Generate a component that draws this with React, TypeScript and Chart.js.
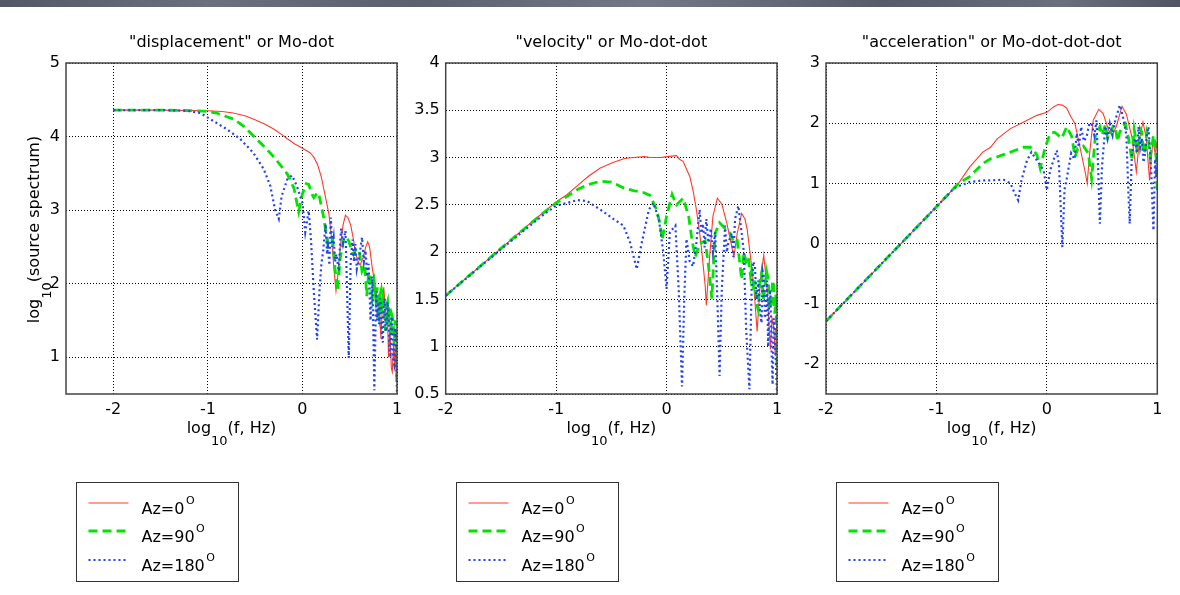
import React, { useEffect, useRef } from "react";
import { Chart, registerables } from "chart.js";

Chart.register(...registerables);

type Pt = [number, number];

const seriesNames = ["Az=0", "Az=90", "Az=180"];
const panelTitles = [
  '"displacement" or Mo-dot',
  '"velocity" or Mo-dot-dot',
  '"acceleration" or Mo-dot-dot-dot',
];
const xTicks = [-2, -1, 0, 1];
const dispYTicks = [1, 2, 3, 4, 5];
const velYTicks = [0.5, 1, 1.5, 2, 2.5, 3, 3.5, 4];
const accYTicks = [-2, -1, 0, 1, 2, 3];

// ---- "displacement" panel ----
const dispAz0: Pt[] = [
  [-2, 4.36], [-1.5, 4.36], [-1.2, 4.355], [-1, 4.35], [-0.85, 4.34], [-0.73, 4.32], [-0.6, 4.28],
  [-0.52, 4.24], [-0.4, 4.17], [-0.3, 4.1], [-0.2, 4.01], [-0.16, 3.97], [-0.08, 3.9], [0, 3.84],
  [0.08, 3.78], [0.12, 3.72], [0.16, 3.62], [0.2, 3.45], [0.24, 3.2], [0.28, 2.95], [0.31, 2.6],
  [0.33, 2.25], [0.355, 1.9], [0.37, 2.05], [0.4, 2.5], [0.43, 2.8], [0.455, 2.93], [0.48, 2.9],
  [0.51, 2.8], [0.54, 2.6], [0.56, 2.42], [0.59, 2.3], [0.61, 2.25], [0.64, 2.35], [0.67, 2.5],
  [0.69, 2.57], [0.71, 2.5], [0.74, 2.2], [0.765, 2.0], [0.79, 1.8], [0.81, 1.85], [0.83, 1.25],
  [0.845, 1.7], [0.86, 1.95], [0.88, 1.6], [0.9, 1.55], [0.91, 1.0], [0.925, 1.4], [0.94, 0.85],
  [0.95, 0.8], [0.965, 1.2], [0.975, 0.9], [0.985, 1.15], [0.993, 0.7], [1.0, 1.0],
];
const dispAz90: Pt[] = [
  [-2, 4.36], [-1.5, 4.36], [-1.1, 4.35], [-1, 4.34], [-0.91, 4.32], [-0.8, 4.27], [-0.73, 4.24],
  [-0.62, 4.14], [-0.52, 4.01], [-0.4, 3.86], [-0.3, 3.72], [-0.2, 3.56], [-0.16, 3.49], [-0.09, 3.3],
  [-0.04, 2.98], [0.0, 3.22], [0.04, 3.36], [0.066, 3.35], [0.1, 3.22], [0.12, 3.17], [0.16, 3.24],
  [0.18, 3.18], [0.225, 2.9], [0.27, 2.52], [0.3, 2.55], [0.32, 2.6], [0.345, 2.2], [0.37, 1.9],
  [0.4, 2.35], [0.44, 2.63], [0.47, 2.62], [0.49, 2.58], [0.52, 2.45], [0.54, 2.4], [0.57, 2.48],
  [0.6, 2.45], [0.63, 2.17], [0.66, 2.25], [0.68, 1.83], [0.7, 2.15], [0.72, 2.08], [0.74, 1.81],
  [0.76, 2.0], [0.775, 1.8], [0.79, 1.95], [0.8, 1.6], [0.81, 1.54], [0.82, 1.85], [0.83, 1.9],
  [0.84, 1.6], [0.85, 1.8], [0.86, 1.72], [0.87, 1.45], [0.88, 1.36], [0.89, 1.7], [0.9, 1.75],
  [0.91, 1.45], [0.92, 1.65], [0.93, 1.63], [0.94, 1.3], [0.95, 1.55], [0.96, 1.5], [0.97, 1.15],
  [0.98, 1.5], [0.99, 1.3], [1.0, 0.65],
];
const dispAz180: Pt[] = [
  [-2, 4.36], [-1.5, 4.36], [-1.22, 4.35], [-1.08, 4.32], [-0.94, 4.21], [-0.8, 4.1], [-0.66, 3.97],
  [-0.52, 3.78], [-0.41, 3.56], [-0.34, 3.33], [-0.29, 3.01], [-0.25, 2.88], [-0.22, 3.19],
  [-0.16, 3.42], [-0.11, 3.47], [-0.06, 3.33], [0.0, 3.1], [0.03, 2.7], [0.066, 2.99], [0.09, 2.6],
  [0.12, 1.9], [0.155, 1.24], [0.18, 1.9], [0.2, 2.26], [0.22, 2.45], [0.245, 2.81], [0.26, 2.4],
  [0.27, 2.5], [0.285, 2.25], [0.3, 2.9], [0.315, 2.5], [0.33, 2.63], [0.345, 2.3], [0.36, 2.4],
  [0.385, 2.17], [0.4, 2.6], [0.41, 2.75], [0.43, 2.55], [0.455, 2.72], [0.47, 2.0], [0.49, 0.99],
  [0.51, 2.3], [0.53, 2.6], [0.545, 2.3], [0.56, 2.54], [0.575, 2.2], [0.59, 2.3], [0.61, 2.45],
  [0.63, 2.63], [0.65, 2.3], [0.667, 2.45], [0.685, 2.1], [0.7, 2.27], [0.72, 1.5], [0.74, 2.1],
  [0.76, 0.55], [0.78, 1.9], [0.79, 1.5], [0.8, 1.75], [0.81, 1.45], [0.82, 1.8], [0.83, 1.72],
  [0.84, 1.3], [0.85, 1.2], [0.86, 1.7], [0.87, 1.8], [0.88, 1.35], [0.89, 1.4], [0.9, 1.75],
  [0.91, 1.6], [0.92, 1.1], [0.93, 1.0], [0.94, 1.55], [0.95, 1.5], [0.96, 0.95], [0.97, 0.9],
  [0.98, 1.4], [0.99, 1.2], [1.0, 0.5],
];

// ---- "velocity" panel ----
const velAz0: Pt[] = [
  [-2, 1.54], [-1.5, 2.04], [-1.2, 2.34], [-1, 2.53], [-0.9, 2.61], [-0.81, 2.7], [-0.71, 2.8],
  [-0.6, 2.89], [-0.48, 2.95], [-0.38, 2.99], [-0.3, 3.0], [-0.2, 3.01], [-0.15, 3.0], [-0.05, 3.0],
  [0, 3.01], [0.09, 3.02], [0.12, 2.98], [0.15, 2.96], [0.18, 2.88], [0.21, 2.8], [0.24, 2.65],
  [0.27, 2.45], [0.3, 2.2], [0.32, 2.0], [0.35, 1.64], [0.36, 1.44], [0.39, 1.95], [0.42, 2.38],
  [0.46, 2.57], [0.5, 2.51], [0.545, 2.31], [0.59, 2.06], [0.61, 1.95], [0.64, 2.2], [0.68, 2.41],
  [0.71, 2.35], [0.73, 2.24], [0.76, 1.95], [0.79, 1.64], [0.82, 1.16], [0.85, 1.71], [0.88, 1.97],
  [0.91, 1.6], [0.94, 0.97], [0.955, 1.3], [0.97, 1.21], [0.985, 0.9], [1.0, 1.3],
];
const velAz90: Pt[] = [
  [-2, 1.54], [-1.5, 2.04], [-1.1, 2.43], [-1, 2.52], [-0.9, 2.59], [-0.81, 2.66], [-0.72, 2.71],
  [-0.6, 2.75], [-0.5, 2.74], [-0.39, 2.68], [-0.3, 2.65], [-0.21, 2.63], [-0.15, 2.6], [-0.09, 2.45],
  [-0.06, 2.3], [-0.04, 2.13], [0.0, 2.38], [0.05, 2.61], [0.09, 2.5], [0.15, 2.57], [0.2, 2.38],
  [0.23, 2.13], [0.26, 1.95], [0.3, 2.09], [0.35, 2.12], [0.38, 1.85], [0.41, 1.51], [0.44, 2.2],
  [0.48, 2.31], [0.53, 2.25], [0.575, 2.2], [0.61, 2.1], [0.64, 2.12], [0.68, 1.71], [0.7, 2.0],
  [0.72, 1.9], [0.74, 1.95], [0.76, 1.75], [0.77, 1.85], [0.79, 1.6], [0.8, 1.7], [0.815, 1.45],
  [0.83, 1.39], [0.845, 1.7], [0.86, 1.78], [0.875, 1.5], [0.89, 1.6], [0.905, 1.8], [0.92, 1.72],
  [0.935, 1.4], [0.95, 1.45], [0.96, 1.7], [0.97, 1.65], [0.98, 1.35], [0.99, 1.55], [1.0, 0.75],
];
const velAz180: Pt[] = [
  [-2, 1.54], [-1.5, 2.03], [-1.1, 2.41], [-1, 2.49], [-0.9, 2.52], [-0.81, 2.55], [-0.72, 2.54],
  [-0.6, 2.45], [-0.48, 2.35], [-0.39, 2.28], [-0.33, 2.1], [-0.27, 1.82], [-0.23, 2.07],
  [-0.16, 2.45], [-0.12, 2.52], [-0.07, 2.35], [-0.03, 2.0], [0.0, 1.61], [0.03, 2.21], [0.08, 2.28],
  [0.11, 1.6], [0.14, 0.58], [0.16, 1.5], [0.18, 2.14], [0.21, 1.9], [0.24, 1.85], [0.27, 2.1],
  [0.3, 2.45], [0.315, 2.2], [0.33, 2.3], [0.345, 2.05], [0.36, 2.35], [0.38, 2.1], [0.4, 2.25],
  [0.42, 2.0], [0.44, 2.21], [0.46, 1.5], [0.48, 0.69], [0.5, 1.6], [0.53, 2.28], [0.545, 2.0],
  [0.56, 2.1], [0.59, 2.2], [0.605, 1.95], [0.62, 2.35], [0.65, 2.49], [0.68, 2.2], [0.7, 2.0],
  [0.72, 1.2], [0.75, 0.55], [0.77, 1.6], [0.785, 1.9], [0.8, 1.85], [0.815, 1.5], [0.83, 1.7],
  [0.845, 1.4], [0.86, 1.25], [0.87, 1.8], [0.88, 1.75], [0.89, 1.3], [0.9, 1.4], [0.91, 1.7],
  [0.92, 1.0], [0.93, 1.5], [0.94, 1.6], [0.95, 1.0], [0.96, 0.6], [0.97, 1.3], [0.98, 1.2],
  [0.99, 0.8], [1.0, 0.51],
];

// ---- "acceleration" panel ----
const accAz0: Pt[] = [
  [-2, -1.29], [-1.5, -0.34], [-1, 0.61], [-0.8, 1.0], [-0.7, 1.27], [-0.58, 1.52], [-0.51, 1.6],
  [-0.45, 1.74], [-0.33, 1.91], [-0.21, 2.02], [-0.09, 2.13], [0, 2.18], [0.06, 2.27], [0.1, 2.31],
  [0.14, 2.3], [0.18, 2.25], [0.22, 2.1], [0.255, 1.99], [0.3, 1.6], [0.35, 1.16], [0.365, 1.0],
  [0.39, 1.55], [0.42, 2.05], [0.47, 2.23], [0.51, 2.16], [0.56, 1.88], [0.59, 1.8], [0.63, 1.95],
  [0.68, 2.28], [0.72, 2.15], [0.77, 1.77], [0.81, 1.19], [0.84, 1.75], [0.87, 2.02], [0.9, 1.75],
  [0.93, 1.05], [0.96, 1.72], [0.98, 1.5], [1.0, 1.7],
];
const accAz90: Pt[] = [
  [-2, -1.29], [-1.5, -0.34], [-1, 0.61], [-0.8, 1.0], [-0.7, 1.11], [-0.58, 1.33], [-0.51, 1.41],
  [-0.45, 1.44], [-0.33, 1.52], [-0.21, 1.6], [-0.15, 1.6], [-0.12, 1.55], [-0.09, 1.47],
  [-0.06, 1.25], [-0.015, 1.6], [0.03, 1.83], [0.07, 1.85], [0.09, 1.82], [0.135, 1.75], [0.18, 1.94],
  [0.225, 1.78], [0.255, 1.44], [0.28, 1.58], [0.33, 1.62], [0.375, 1.5], [0.405, 1.08], [0.44, 1.8],
  [0.48, 1.94], [0.5, 1.8], [0.53, 1.97], [0.55, 1.75], [0.57, 1.8], [0.6, 1.95], [0.62, 1.94],
  [0.64, 1.7], [0.66, 1.85], [0.69, 1.95], [0.71, 1.99], [0.74, 1.75], [0.77, 1.38], [0.79, 1.9],
  [0.8, 1.8], [0.815, 1.55], [0.83, 1.6], [0.845, 1.9], [0.86, 1.85], [0.875, 1.5], [0.89, 1.55],
  [0.905, 1.85], [0.92, 1.75], [0.935, 1.45], [0.95, 1.6], [0.965, 1.8], [0.98, 1.65], [0.99, 1.4],
  [1.0, 0.89],
];
const accAz180: Pt[] = [
  [-2, -1.29], [-1.5, -0.34], [-1, 0.61], [-0.85, 0.9], [-0.82, 0.94], [-0.7, 1.02], [-0.58, 1.05],
  [-0.51, 1.05], [-0.39, 1.06], [-0.33, 1.0], [-0.29, 0.83], [-0.26, 0.72], [-0.23, 1.05],
  [-0.18, 1.38], [-0.14, 1.52], [-0.09, 1.38], [-0.03, 1.22], [0.0, 0.89], [0.03, 1.22], [0.09, 1.55],
  [0.11, 1.3], [0.14, -0.06], [0.16, 0.9], [0.18, 1.08], [0.22, 1.5], [0.25, 1.4], [0.27, 1.83],
  [0.29, 1.6], [0.31, 1.94], [0.335, 1.7], [0.36, 1.78], [0.385, 2.0], [0.405, 1.99], [0.43, 1.8],
  [0.45, 2.05], [0.465, 1.2], [0.48, 0.33], [0.5, 1.3], [0.53, 1.95], [0.55, 1.75], [0.57, 1.99],
  [0.595, 1.8], [0.62, 2.05], [0.66, 2.3], [0.69, 2.1], [0.72, 1.8], [0.735, 1.0], [0.75, 0.33],
  [0.77, 1.5], [0.8, 1.75], [0.815, 1.5], [0.83, 1.94], [0.845, 1.6], [0.86, 1.75], [0.875, 1.35],
  [0.89, 1.5], [0.905, 1.8], [0.92, 1.94], [0.935, 1.5], [0.945, 1.2], [0.965, 0.22], [0.98, 1.4],
  [0.99, 1.1], [1.0, 1.5],
];

const FONT = "DejaVu Sans";
const RED = "#ff3a2a";
const GREEN = "#00e400";
const BLUE = "#2243f0";

interface PanelCfg {
  title: string;
  canvasLeft: number;
  canvasWidth: number;
  yAxisWidth: number;
  padRight: number;
  xMin: number;
  xMax: number;
  yMin: number;
  yMax: number;
  yTicks: number[];
  series: Pt[][];
  yTitle: boolean;
}

const panels: PanelCfg[] = [
  {
    title: panelTitles[0], canvasLeft: 0, canvasWidth: 412, yAxisWidth: 66, padRight: 15,
    xMin: -2.5, xMax: 1, yMin: 0.5, yMax: 5, yTicks: dispYTicks,
    series: [dispAz0, dispAz90, dispAz180], yTitle: true,
  },
  {
    title: panelTitles[1], canvasLeft: 400, canvasWidth: 400, yAxisWidth: 45.7, padRight: 23,
    xMin: -2, xMax: 1, yMin: 0.5, yMax: 4, yTicks: velYTicks,
    series: [velAz0, velAz90, velAz180], yTitle: false,
  },
  {
    title: panelTitles[2], canvasLeft: 790, canvasWidth: 390, yAxisWidth: 36, padRight: 22.7,
    xMin: -2, xMax: 1, yMin: -2.5, yMax: 3, yTicks: accYTicks,
    series: [accAz0, accAz90, accAz180], yTitle: false,
  },
];

const styles = [
  { color: RED, width: 1.1, dash: [] as number[] },
  { color: GREEN, width: 2.8, dash: [9, 5] },
  { color: BLUE, width: 2.2, dash: [2, 3] },
];

function drawSubText(
  ctx: CanvasRenderingContext2D, cx: number, y: number,
  a: string, sub: string, b: string, subDrop: number
) {
  ctx.textAlign = "left";
  ctx.textBaseline = "alphabetic";
  ctx.font = `16px ${FONT}`;
  const w1 = ctx.measureText(a).width;
  const w3 = ctx.measureText(b).width;
  ctx.font = `13px ${FONT}`;
  const w2 = ctx.measureText(sub).width;
  let x = cx - (w1 + w2 + w3) / 2;
  ctx.font = `16px ${FONT}`;
  ctx.fillText(a, x, y);
  x += w1;
  ctx.font = `13px ${FONT}`;
  ctx.fillText(sub, x, y + subDrop);
  x += w2;
  ctx.font = `16px ${FONT}`;
  ctx.fillText(b, x, y);
}

function makeDecor(cfg: PanelCfg) {
  return {
    id: "decor",
    afterDraw(chart: any) {
      const ctx: CanvasRenderingContext2D = chart.ctx;
      const a = chart.chartArea;
      ctx.save();
      ctx.setLineDash([]);
      ctx.strokeStyle = "#444";
      ctx.lineWidth = 1.5;
      ctx.strokeRect(a.left, a.top, a.right - a.left, a.bottom - a.top);

      const cx = (a.left + a.right) / 2;
      ctx.fillStyle = "#000";
      ctx.font = `16px ${FONT}`;
      ctx.textAlign = "center";
      ctx.textBaseline = "alphabetic";
      ctx.fillText(cfg.title, cx, 47);

      drawSubText(ctx, cx, 432.5, "log", "10", "(f, Hz)", 12);

      if (cfg.yTitle) {
        ctx.save();
        ctx.translate(39, (a.top + a.bottom) / 2 + 1);
        ctx.rotate(-Math.PI / 2);
        drawSubText(ctx, 0, 0, "log", "10", "(source spectrum)", 12);
        ctx.restore();
      }

      // legend box
      const bx = Math.round(a.left + 10) + 0.5;
      const by = 482.5;
      const bw = 162;
      const bh = 99;
      ctx.fillStyle = "#fff";
      ctx.fillRect(bx, by, bw, bh);
      ctx.strokeStyle = "#333";
      ctx.lineWidth = 1;
      ctx.strokeRect(bx, by, bw, bh);
      const baselines = [513.5, 541.5, 570.5];
      seriesNames.forEach((name, i) => {
        const st = styles[i];
        const ly = baselines[i] - 10.5;
        ctx.beginPath();
        ctx.strokeStyle = st.color;
        ctx.lineWidth = st.width;
        ctx.setLineDash(st.dash);
        ctx.moveTo(bx + 12, ly);
        ctx.lineTo(bx + 52, ly);
        ctx.stroke();
        ctx.setLineDash([]);
        ctx.fillStyle = "#000";
        ctx.textAlign = "left";
        ctx.font = `16px ${FONT}`;
        ctx.fillText(name, bx + 65, baselines[i]);
        const w = ctx.measureText(name).width;
        ctx.font = `11px ${FONT}`;
        ctx.fillText("O", bx + 65 + w + 1.5, baselines[i] - 10);
      });
      ctx.restore();
    },
  };
}

function Panel({ cfg }: { cfg: PanelCfg }) {
  const ref = useRef<HTMLCanvasElement>(null);
  useEffect(() => {
    const canvas = ref.current;
    if (!canvas) return;
    const tickFont = { family: FONT, size: 16 };
    const chart = new Chart(canvas, {
      type: "line",
      data: {
        datasets: cfg.series.map((s, i) => ({
          label: seriesNames[i],
          data: s.map(([x, y]) => ({ x, y })),
          borderColor: styles[i].color,
          borderWidth: styles[i].width,
          borderDash: styles[i].dash,
          pointRadius: 0,
          fill: false,
          tension: 0,
          order: 3 - i,
        })),
      },
      options: {
        responsive: false,
        animation: false,
        events: [],
        layout: { padding: { top: 63, right: cfg.padRight, bottom: 161, left: 0 } },
        plugins: { legend: { display: false }, tooltip: { enabled: false }, title: { display: false } },
        scales: {
          x: {
            type: "linear",
            min: cfg.xMin,
            max: cfg.xMax,
            afterBuildTicks: (s: any) => { s.ticks = xTicks.map((v) => ({ value: v })); },
            afterFit: (s: any) => { s.height = 40; },
            grid: { color: "#000", lineWidth: 1, drawTicks: false },
            border: { display: false, dash: [1, 2] },
            ticks: {
              padding: 6, color: "#000", font: tickFont, maxRotation: 0, autoSkip: false,
              callback: (v: any) => String(v),
            },
          },
          y: {
            type: "linear",
            min: cfg.yMin,
            max: cfg.yMax,
            afterBuildTicks: (s: any) => { s.ticks = cfg.yTicks.map((v) => ({ value: v })); },
            afterFit: (s: any) => { s.width = cfg.yAxisWidth; },
            grid: { color: "#000", lineWidth: 1, drawTicks: false },
            border: { display: false, dash: [1, 2] },
            ticks: {
              padding: 6, color: "#000", font: tickFont, autoSkip: false,
              callback: (v: any) => String(v),
            },
          },
        },
      },
      plugins: [makeDecor(cfg)],
    } as any);
    return () => chart.destroy();
  }, [cfg]);
  return (
    <canvas
      ref={ref}
      width={cfg.canvasWidth}
      height={595}
      style={{ position: "absolute", left: cfg.canvasLeft, top: 0, width: cfg.canvasWidth, height: 595 }}
    />
  );
}

export default function App() {
  return (
    <div style={{ position: "absolute", left: 0, top: 0, width: 1180, height: 595, background: "#fff", overflow: "hidden" }}>
      <div
        style={{
          position: "absolute", left: 0, top: 0, width: 1180, height: 7,
          background: "linear-gradient(90deg, #525866 0%, #6b7080 18%, #5a6070 35%, #737888 55%, #555b6a 75%, #6a6f7e 90%, #4f5563 100%)",
        }}
      />
      {panels.map((p, i) => (
        <Panel key={i} cfg={p} />
      ))}
    </div>
  );
}
